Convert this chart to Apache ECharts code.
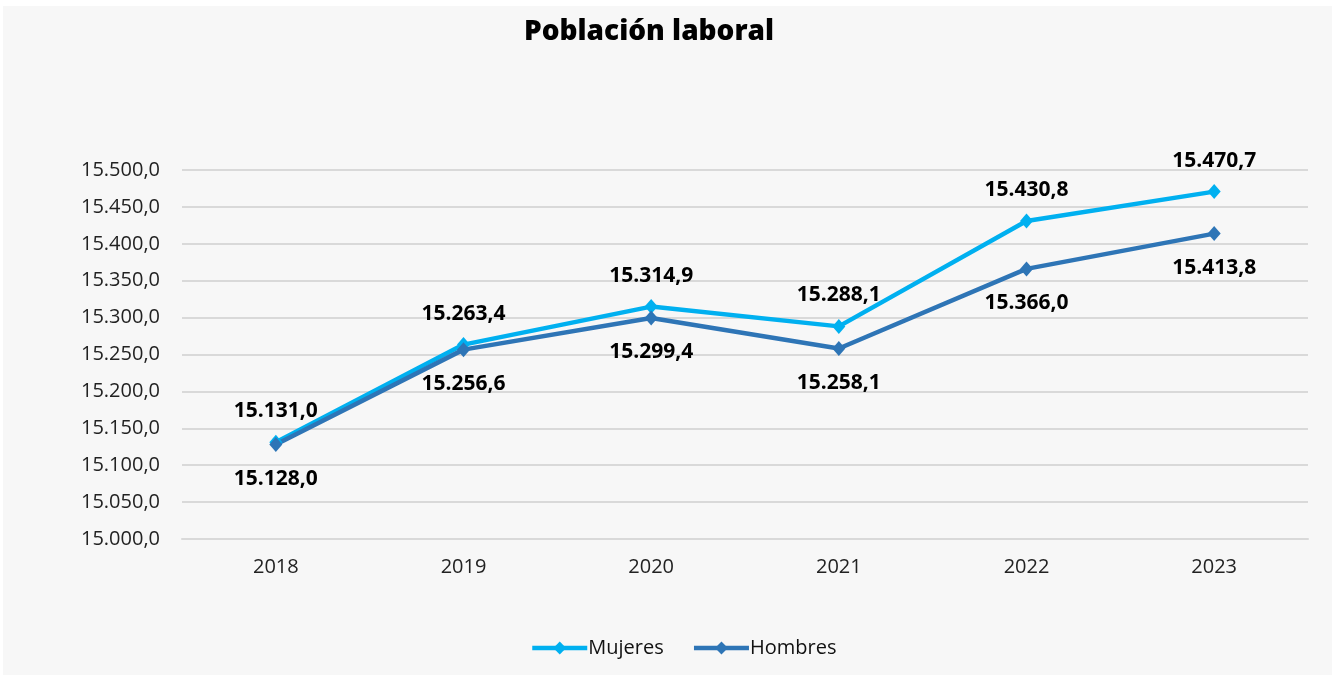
<!DOCTYPE html>
<html><head><meta charset="utf-8">
<script src="https://cdn.jsdelivr.net/npm/echarts@6/dist/echarts.min.js"></script>
<style>
html,body{margin:0;padding:0;background:#fff;}
#panel{position:absolute;left:3px;top:6px;width:1329px;height:669px;background:#f7f7f7;}
#chart{position:absolute;left:0;top:0;width:1332px;height:680px;}
</style></head>
<body><div id="panel"></div><div id="chart"></div>
<script>
const categories = ['2018','2019','2020','2021','2022','2023'];
const mujeres = [15131.0, 15263.4, 15314.9, 15288.1, 15430.8, 15470.7];
const hombres = [15128.0, 15256.6, 15299.4, 15258.1, 15366.0, 15413.8];

function fmt(v){
  const s = Number(v).toFixed(1).split('.');
  return s[0].replace(/\B(?=(\d{3})+(?!\d))/g,'.') + ',' + s[1];
}
const chart = echarts.init(document.getElementById('chart'), null, {renderer:'canvas'});
chart.setOption({
  backgroundColor:'transparent',
  title:{text:'Población laboral', left:519, top:13,
    textStyle:{fontFamily:'Open Sans', fontWeight:800, fontSize:28, color:'#000'}},
  legend:{left:525, top:633, itemWidth:55, itemHeight:16, itemGap:28,
    lineStyle:{width:4.5},
    textStyle:{fontFamily:'Open Sans', fontSize:20, color:'#111', padding:[0,0,0,-4]},
    data:['Mujeres','Hombres']},
  grid:{left:182, right:24, top:170, bottom:141},
  xAxis:{type:'category', data:categories, boundaryGap:true,
    axisLine:{lineStyle:{color:'#d9d9d9', width:2}}, axisTick:{show:false},
    axisLabel:{fontFamily:'Open Sans', fontSize:20, color:'#222', margin:18}},
  yAxis:{type:'value', min:15000, max:15500, interval:50,
    axisLine:{show:false}, axisTick:{show:false},
    splitLine:{lineStyle:{color:'#d9d9d9', width:2}},
    axisLabel:{fontFamily:'Open Sans', fontSize:20, color:'#222', margin:22, formatter:fmt}},
  series:[
    {name:'Mujeres', type:'line', data:mujeres, color:'#00b0f0',
     lineStyle:{width:4.5}, symbol:'diamond', symbolSize:[13,15],
     label:{show:true, position:'top', distance:13, formatter:p=>fmt(p.value),
       fontFamily:'Open Sans', fontWeight:'bold', fontSize:21, color:'#000'}},
    {name:'Hombres', type:'line', data:hombres, color:'#2e75b6',
     lineStyle:{width:4.5}, symbol:'diamond', symbolSize:[13,15],
     label:{show:true, position:'bottom', distance:16, formatter:p=>fmt(p.value),
       fontFamily:'Open Sans', fontWeight:'bold', fontSize:21, color:'#000'}}
  ]
});
</script></body></html>
